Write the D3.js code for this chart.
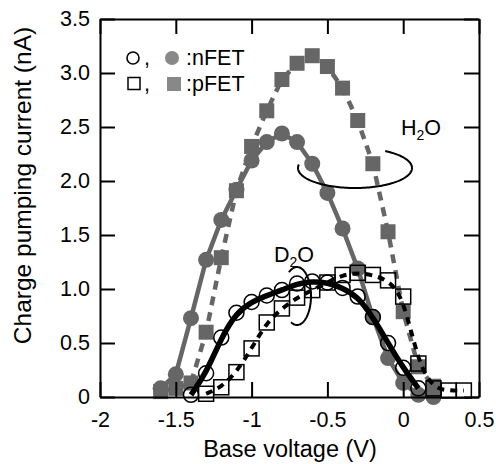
<!DOCTYPE html>
<html><head><meta charset="utf-8">
<script src="https://cdn.jsdelivr.net/npm/d3@7"></script>
<style>body{margin:0;background:#fff}svg{display:block}text{font-family:"Liberation Sans",Arial,sans-serif}</style>
</head><body><svg id="c" width="496" height="464"></svg>
<script>
const xTicks=[-2,-1.5,-1,-0.5,0,0.5];
const xTickLabels=["-2","-1.5","-1","-0.5","0","0.5"];
const yTicks=[0,0.5,1,1.5,2,2.5,3,3.5];
const yTickLabels=["0","0.5","1.0","1.5","2.0","2.5","3.0","3.5"];
// H2O (filled gray)
const nH2OV=[-1.6,-1.5,-1.4,-1.3,-1.2,-1.1,-1.0,-0.9,-0.8,-0.7,-0.6,-0.5,-0.4,-0.3,-0.2,-0.1,0.0,0.1,0.2];
const nH2OI=[0.08,0.21,0.73,1.27,1.64,1.92,2.19,2.36,2.44,2.36,2.16,1.89,1.56,1.19,0.74,0.36,0.13,0.02,0.0];
const pH2OV=[-1.6,-1.5,-1.4,-1.3,-1.2,-1.1,-1.0,-0.9,-0.8,-0.7,-0.6,-0.5,-0.4,-0.3,-0.2,-0.1,0.0,0.1,0.2];
const pH2OI=[0.05,0.08,0.13,0.60,1.29,1.91,2.32,2.65,2.94,3.09,3.16,3.06,2.86,2.56,2.16,1.53,0.79,0.28,0.10];
// D2O (open)
const nD2OV=[-1.4,-1.3,-1.2,-1.1,-1.0,-0.9,-0.8,-0.7,-0.6,-0.5,-0.4,-0.3,-0.2,-0.1,0.0,0.1];
const nD2OI=[0.02,0.22,0.55,0.78,0.88,0.94,0.99,1.05,1.07,1.06,1.01,0.93,0.74,0.50,0.27,0.08];
const pD2OV=[-1.3,-1.2,-1.1,-1.0,-0.9,-0.8,-0.7,-0.6,-0.5,-0.4,-0.3,-0.2,-0.1,0.0,0.1,0.2,0.3,0.4];
const pD2OI=[0.03,0.09,0.23,0.45,0.69,0.82,0.92,0.99,1.06,1.13,1.15,1.13,1.08,0.93,0.31,0.08,0.06,0.06];

const svg=d3.select("#c");
const x=d3.scaleLinear().domain([-2,0.5]).range([100,479]);
const y=d3.scaleLinear().domain([0,3.5]).range([397,19]);
const FS=21.5, gray="#666", lgray="#888";

const zip=(a,b)=>a.map((v,i)=>[v,b[i]]);
const line=d3.line().x(d=>x(d[0])).y(d=>y(d[1]));
const smooth=d3.line().x(d=>x(d[0])).y(d=>y(d[1])).curve(d3.curveBasis);

svg.append("path").attr("d",line(zip(pH2OV,pH2OI))).attr("fill","none").attr("stroke",gray).attr("stroke-width",4.5).attr("stroke-dasharray","9,7");
svg.append("path").attr("d",line(zip(nH2OV,nH2OI))).attr("fill","none").attr("stroke",gray).attr("stroke-width",4.5);
svg.append("g").selectAll("rect").data(zip(pH2OV,pH2OI)).join("rect")
 .attr("x",d=>x(d[0])-7.5).attr("y",d=>y(d[1])-7.5).attr("width",15).attr("height",15).attr("fill",gray);
svg.append("g").selectAll("circle").data(zip(nH2OV,nH2OI)).join("circle")
 .attr("cx",d=>x(d[0])).attr("cy",d=>y(d[1])).attr("r",8).attr("fill",gray);

svg.append("g").selectAll("rect").data(zip(pD2OV,pD2OI)).join("rect")
 .attr("x",d=>x(d[0])-7.5).attr("y",d=>y(d[1])-7.5).attr("width",15).attr("height",15).attr("fill","none").attr("stroke","#000").attr("stroke-width",1.5);
svg.append("g").selectAll("circle").data(zip(nD2OV,nD2OI)).join("circle")
 .attr("cx",d=>x(d[0])).attr("cy",d=>y(d[1])).attr("r",7.5).attr("fill","none").attr("stroke","#000").attr("stroke-width",1.5);
svg.append("path").attr("d",smooth(zip(pD2OV,pD2OI))).attr("fill","none").attr("stroke","#000").attr("stroke-width",4).attr("stroke-dasharray","7,6");
svg.append("path").attr("d",smooth(zip(nD2OV,nD2OI))).attr("fill","none").attr("stroke","#000").attr("stroke-width",5.5);

const fmtX=d=>xTickLabels[xTicks.indexOf(d)], fmtY=d=>yTickLabels[yTicks.indexOf(d)];
const gb=svg.append("g").attr("transform","translate(0,397)").call(d3.axisBottom(x).tickValues(xTicks).tickFormat(fmtX).tickSizeInner(-15).tickSizeOuter(0).tickPadding(15));
const gt=svg.append("g").attr("transform","translate(0,19)").call(d3.axisTop(x).tickValues(xTicks).tickFormat("").tickSizeInner(-15).tickSizeOuter(0));
const gl=svg.append("g").attr("transform","translate(100,0)").call(d3.axisLeft(y).tickValues(yTicks).tickFormat(fmtY).tickSizeInner(-15).tickSizeOuter(0).tickPadding(10));
const gr=svg.append("g").attr("transform","translate(479,0)").call(d3.axisRight(y).tickValues(yTicks).tickFormat("").tickSizeInner(-15).tickSizeOuter(0));
[gb,gt,gl,gr].forEach(g=>{g.selectAll("path.domain").attr("stroke","#000").attr("stroke-width",2);
 g.selectAll("line").attr("stroke","#000").attr("stroke-width",2);
 g.selectAll("text").attr("font-size",FS).attr("fill","#000").attr("font-family","Liberation Sans, Arial, sans-serif");});

svg.append("text").attr("x",290).attr("y",457).attr("text-anchor","middle").attr("font-size",23.5).text("Base voltage (V)");
svg.append("text").attr("transform","translate(31,185.5) rotate(-90)").attr("text-anchor","middle").attr("font-size",24.5).text("Charge pumping current (nA)");

const lg=svg.append("g");
lg.append("circle").attr("cx",133).attr("cy",58).attr("r",6).attr("fill","none").attr("stroke","#000").attr("stroke-width",1.6);
lg.append("text").attr("x",144).attr("y",65).attr("font-size",FS).text(",");
lg.append("circle").attr("cx",172).attr("cy",58).attr("r",7).attr("fill",lgray);
lg.append("text").attr("x",186).attr("y",65).attr("font-size",FS).text(":nFET");
lg.append("rect").attr("x",128).attr("y",77.5).attr("width",12).attr("height",12).attr("fill","none").attr("stroke","#000").attr("stroke-width",1.5);
lg.append("text").attr("x",144).attr("y",91).attr("font-size",FS).text(",");
lg.append("rect").attr("x",167).attr("y",77).attr("width",14).attr("height",14).attr("fill",lgray);
lg.append("text").attr("x",186).attr("y",91).attr("font-size",FS).text(":pFET");

const h=svg.append("text").attr("x",401).attr("y",135).attr("font-size",FS);
h.append("tspan").text("H");
h.append("tspan").attr("font-size",14).attr("dy",5).text("2");
h.append("tspan").attr("dy",-5).text("O");
const cx=355,cy=168,rx=57,ry=20;
const ell=d3.range(190,-59,-2).map(t=>[cx+rx*Math.cos(t*Math.PI/180),cy+ry*Math.sin(t*Math.PI/180)]);
svg.append("path").attr("d",d3.line()(ell)).attr("fill","none").attr("stroke","#000").attr("stroke-width",2);

const dtx=svg.append("text").attr("x",274).attr("y",262).attr("font-size",FS);
dtx.append("tspan").text("D");
dtx.append("tspan").attr("font-size",14).attr("dy",5).text("2");
dtx.append("tspan").attr("dy",-5).text("O");
const c2x=297,c2y=296,r2x=14,r2y=29;
const ell2=d3.range(-125,117,2).map(t=>[c2x+r2x*Math.cos(t*Math.PI/180),c2y+r2y*Math.sin(t*Math.PI/180)]);
svg.append("path").attr("d",d3.line()(ell2)).attr("fill","none").attr("stroke","#000").attr("stroke-width",2);
</script></body></html>
